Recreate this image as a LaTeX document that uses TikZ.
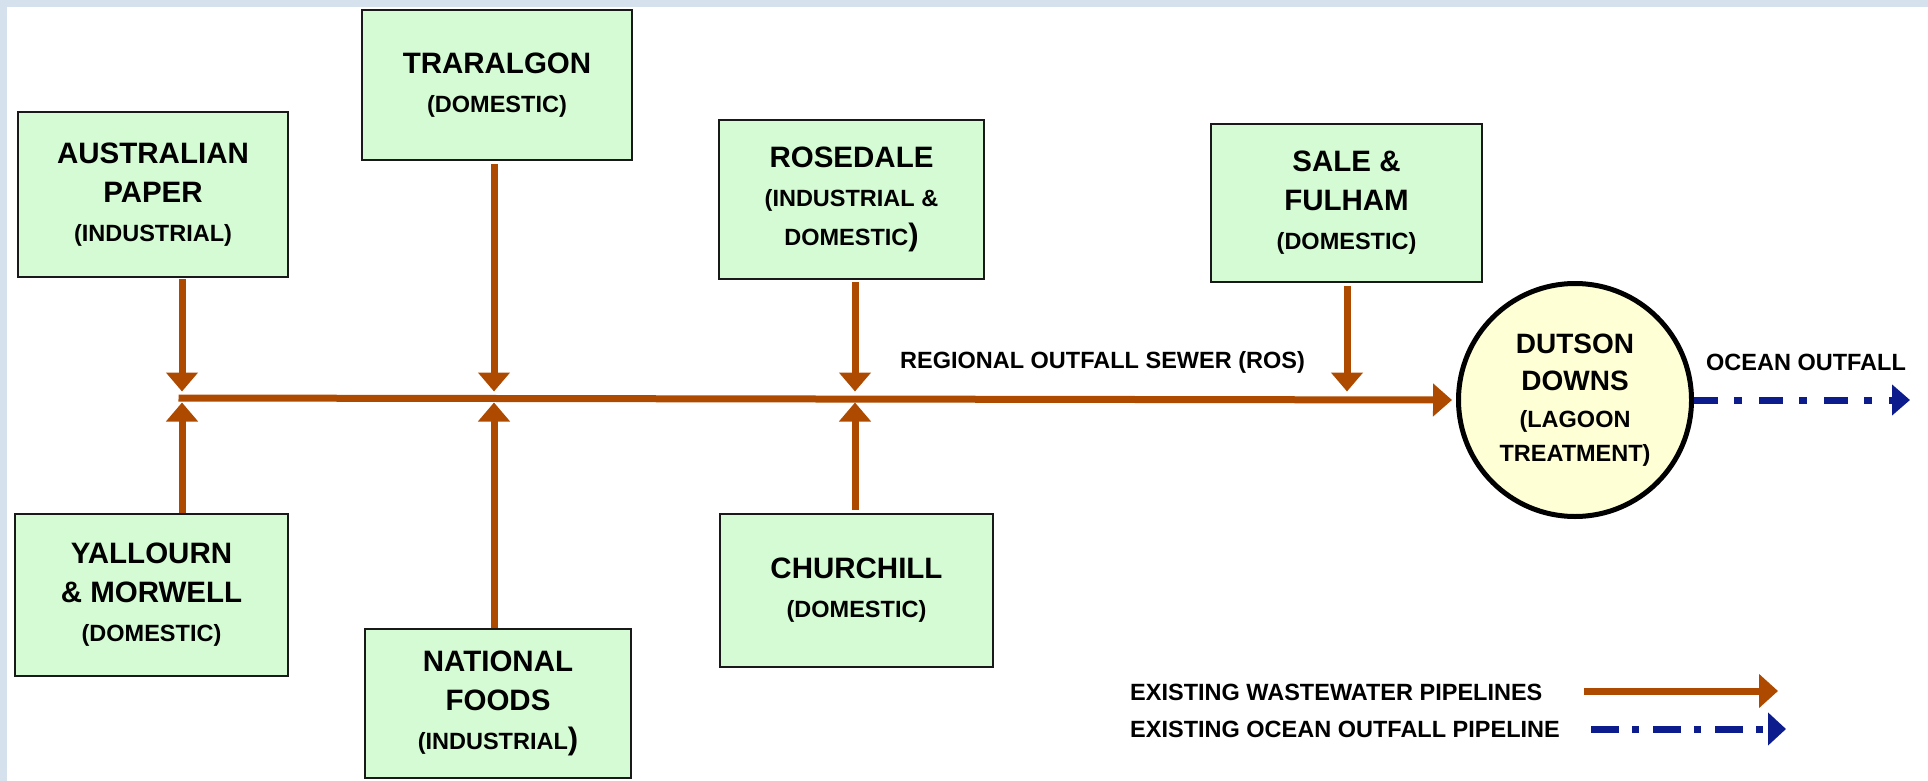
\documentclass[tikz,border=0pt]{standalone}
\usepackage{fontspec}
\setmainfont{Liberation Sans}
\usetikzlibrary{arrows.meta}
\definecolor{framecol}{RGB}{213,225,237}
\definecolor{boxfill}{RGB}{212,251,212}
\definecolor{lagoon}{RGB}{255,255,214}
\definecolor{pipecol}{RGB}{173,74,0}
\definecolor{oceancol}{RGB}{12,28,140}
\newcommand{\ttltxt}{\fontsize{29.5}{39}\selectfont\bfseries}
\newcommand{\subtxt}{\fontsize{23.5}{37}\selectfont\bfseries}
\newcommand{\bigparen}{{\fontsize{31}{37}\selectfont)}}
\begin{document}
\begin{tikzpicture}[x=1pt,y=-1pt,
  site/.style={draw=black!90, line width=2pt, fill=boxfill, align=center, inner sep=0pt, font=\ttltxt},
  lagoonnode/.style={circle, draw=black, line width=5pt, fill=lagoon, align=center, inner sep=0pt, minimum size=233pt, font=\fontsize{28}{37}\selectfont\bfseries},
  pipe/.style={draw=pipecol, line width=7pt, -{Triangle[length=19pt,width=31pt]}},
  ocean/.style={draw=oceancol, line width=7pt, dash pattern=on 23.5pt off 16.5pt on 8pt off 17pt, -{Triangle[length=18pt,width=30pt]}},
  lbl/.style={font=\subtxt, inner sep=0pt}
]
\useasboundingbox (0,0) rectangle (1928,781);
\fill[framecol] (0,0) rectangle (1928,7);
\fill[framecol] (0,0) rectangle (7,781);

% source boxes
\node[site, minimum width=270pt, minimum height=165pt] (ap) at (153,194.5)
  {AUSTRALIAN\\PAPER\\{\subtxt (INDUSTRIAL)}};
\node[site, minimum width=270pt, minimum height=150pt] (tr) at (497,85)
  {TRARALGON\\{\subtxt (DOMESTIC)}};
\node[site, minimum width=265pt, minimum height=159pt] (ro) at (851.5,199.5)
  {ROSEDALE\\{\subtxt (INDUSTRIAL \&}\\{\subtxt DOMESTIC}\bigparen};
\node[site, minimum width=271pt, minimum height=158pt] (sf) at (1346.5,203)
  {SALE \&\\FULHAM\\{\subtxt (DOMESTIC)}};
\node[site, minimum width=273pt, minimum height=162pt] (ym) at (151.5,595)
  {YALLOURN\\\& MORWELL\\{\subtxt (DOMESTIC)}};
\node[site, minimum width=266pt, minimum height=149pt] (nf) at (498,703.5)
  {NATIONAL\\FOODS\\{\subtxt (INDUSTRIAL}\bigparen};
\node[site, minimum width=273pt, minimum height=153pt] (ch) at (856.5,590.5)
  {CHURCHILL\\{\subtxt (DOMESTIC)}};

% treatment
\node[lagoonnode] (dd) at (1575,400)
  {DUTSON\\DOWNS\\{\subtxt (LAGOON}\\[-3pt]{\subtxt TREATMENT)}};

% junctions on the regional outfall sewer
\coordinate (j1) at (182,398);
\coordinate (j2) at (494,398);
\coordinate (j3) at (855,398);
\coordinate (j4) at (1347,398);
\coordinate (oend) at (1910,400);

% main sewer
\draw[pipe, shorten >=4pt, -{Triangle[length=19pt,width=32pt]}] ([xshift=-3.5pt]j1) -- (dd.west);

% inflows from above
\draw[pipe, shorten <=1pt, shorten >=6.5pt] (ap.south -| j1) -- (j1);
\draw[pipe, shorten <=3pt, shorten >=6.5pt] (tr.south -| j2) -- (j2);
\draw[pipe, shorten <=2pt, shorten >=6.5pt] (ro.south -| j3) -- (j3);
\draw[pipe, shorten <=3pt, shorten >=6.5pt] (sf.south -| j4) -- (j4);

% inflows from below
\draw[pipe, shorten <=0pt, shorten >=4.5pt] (ym.north -| j1) -- (j1);
\draw[pipe, shorten <=0pt, shorten >=4.5pt] (nf.north -| j2) -- (j2);
\draw[pipe, shorten <=3pt, shorten >=4.5pt] (ch.north -| j3) -- (j3);

% ocean outfall
\draw[ocean] (dd.east) -- (oend);

% labels
\node[lbl] (roslbl) at (1102.5,362) {REGIONAL OUTFALL SEWER (ROS)};
\node[lbl] (oolbl) at (1806,362) {OCEAN OUTFALL};

% legend
\node[lbl, anchor=west] (leg1) at (1130,692) {EXISTING WASTEWATER PIPELINES};
\node[lbl, anchor=west] (leg2) at (1130,729) {EXISTING OCEAN OUTFALL PIPELINE};
\coordinate (lw1) at (1584,691);
\coordinate (lw2) at (1778,691);
\coordinate (lo1) at (1591,729);
\coordinate (lo2) at (1786,729);
\draw[pipe, -{Triangle[length=19pt,width=33pt]}] (lw1) -- (lw2);
\draw[ocean, dash pattern=on 28pt off 13pt on 7pt off 14pt, -{Triangle[length=18pt,width=32pt]}] (lo1) -- (lo2);
\end{tikzpicture}
\end{document}
